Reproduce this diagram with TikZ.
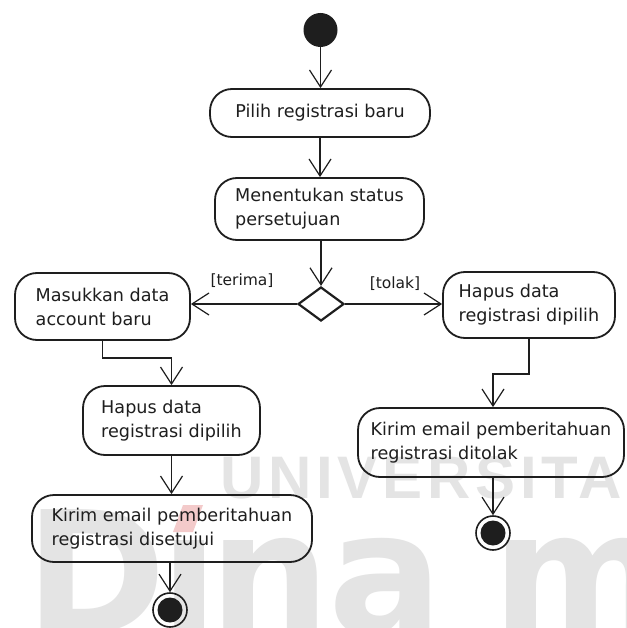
\documentclass[tikz,border=0pt]{standalone}
\usepackage{fontspec}
\setmainfont{DejaVu Sans}
\newfontfamily\capsfont{Liberation Sans Bold}[LetterSpace=8]
\newfontfamily\logofont{DejaVu Sans Bold}
\usetikzlibrary{arrows.meta,shapes.geometric}

\definecolor{wmgray}{HTML}{E4E4E4}
\definecolor{wmred}{HTML}{F3CACA}
\definecolor{ink}{HTML}{1E1E1E}

\begin{document}
\begin{tikzpicture}[x=1pt,y=-1pt,
  act/.style={draw=ink, line width=1.8pt, rounded corners=22pt, align=left,
    inner sep=0pt, text=ink, font=\fontsize{17.6pt}{24pt}\selectfont},
  guard/.style={inner sep=0pt, text=ink, font=\fontsize{15.5pt}{18pt}\selectfont},
  flow/.style={draw=ink, line width=1.2pt,
    -{Straight Barb[length=17pt,width=22pt,line width=1.2pt]}},
  startnode/.style={circle, fill=ink, minimum size=34pt, inner sep=0pt},
  endnode/.style={circle, draw=ink, line width=1.6pt, minimum size=34pt, inner sep=0pt,
    path picture={\fill[ink] (path picture bounding box.center) circle (12.5pt);}},
  choice/.style={diamond, draw=ink, line width=2.2pt, minimum width=46pt,
    minimum height=34pt, inner sep=0pt},
  wm/.style={inner sep=0pt, anchor=base west, text=wmgray},
  wmbig/.style={wm, font=\logofont\fontsize{170pt}{170pt}\selectfont}]

\useasboundingbox (0,0) rectangle (626,628);
\clip (0,0) rectangle (626,628);
\fill[white] (0,0) rectangle (626,628);

% background watermark
\node[wm, font=\capsfont\fontsize{60pt}{60pt}\selectfont] (wmcaps) at (220,498) {UNIVERSITA};
\node[wmbig] (wmD) at (25,633) {D};
\node[wmbig] (wmI) at (160,633) {ı};
\node[wmbig] (wmN) at (209,633) {n};
\node[wmbig] (wmA) at (328,633) {a};
\node[wmbig] (wmM) at (492,633) {m};
\fill[wmred] (183,505) -- (203,505) -- (193,532) -- (173,532) -- cycle;

% activity nodes
\node[startnode] (start) at (320.5,30) {};
\node[act, minimum width=220pt, minimum height=48pt] (pilih) at (320,113) {Pilih registrasi baru};
\node[act, minimum width=209pt, minimum height=62pt] (ment) at (319.5,209) {Menentukan status\\persetujuan};
\node[choice] (dia) at (321,304) {};
\node[act, minimum width=175pt, minimum height=67pt] (masuk) at (102.5,306.5) {Masukkan data\\account baru};
\node[act, minimum width=172pt, minimum height=66pt] (hapusR) at (529,305) {Hapus data\\registrasi dipilih};
\node[act, minimum width=177pt, minimum height=69pt] (hapusL) at (171.5,420.5) {Hapus data\\registrasi dipilih};
\node[act, minimum width=266pt, minimum height=69pt] (kirimR) at (491,442.5) {Kirim email pemberitahuan\\registrasi ditolak};
\node[act, minimum width=280pt, minimum height=67pt] (kirimL) at (172,528.5) {Kirim email pemberitahuan\\registrasi disetujui};
\node[endnode] (endL) at (170,610) {};
\node[endnode] (endR) at (493,533) {};

% guards
\node[guard] (lblT) at (242,281) {[terima]};
\node[guard] (lblF) at (395,284) {[tolak]};

% control flow
\draw[flow] (start.south) -- (start.south |- pilih.north);
\draw[flow] (pilih.south) -- (pilih.south |- ment.north);
\draw[flow] (dia.north |- ment.south) -- (dia.north);
\draw[flow] (dia.west) -- (dia.west -| masuk.east);
\draw[flow] (dia.east) -- (dia.east -| hapusR.west);
\draw[flow] (masuk.south) -- ++(0,17) -| (hapusL.north);
\draw[flow] (hapusR.south) -- ++(0,35) -| (endR |- kirimR.north);
\draw[flow] (hapusL.south) -- (hapusL.south |- kirimL.north);
\draw[flow] (endL |- kirimL.south) -- (endL.north);
\draw[flow] (endR |- kirimR.south) -- (endR.north);
\end{tikzpicture}
\end{document}
